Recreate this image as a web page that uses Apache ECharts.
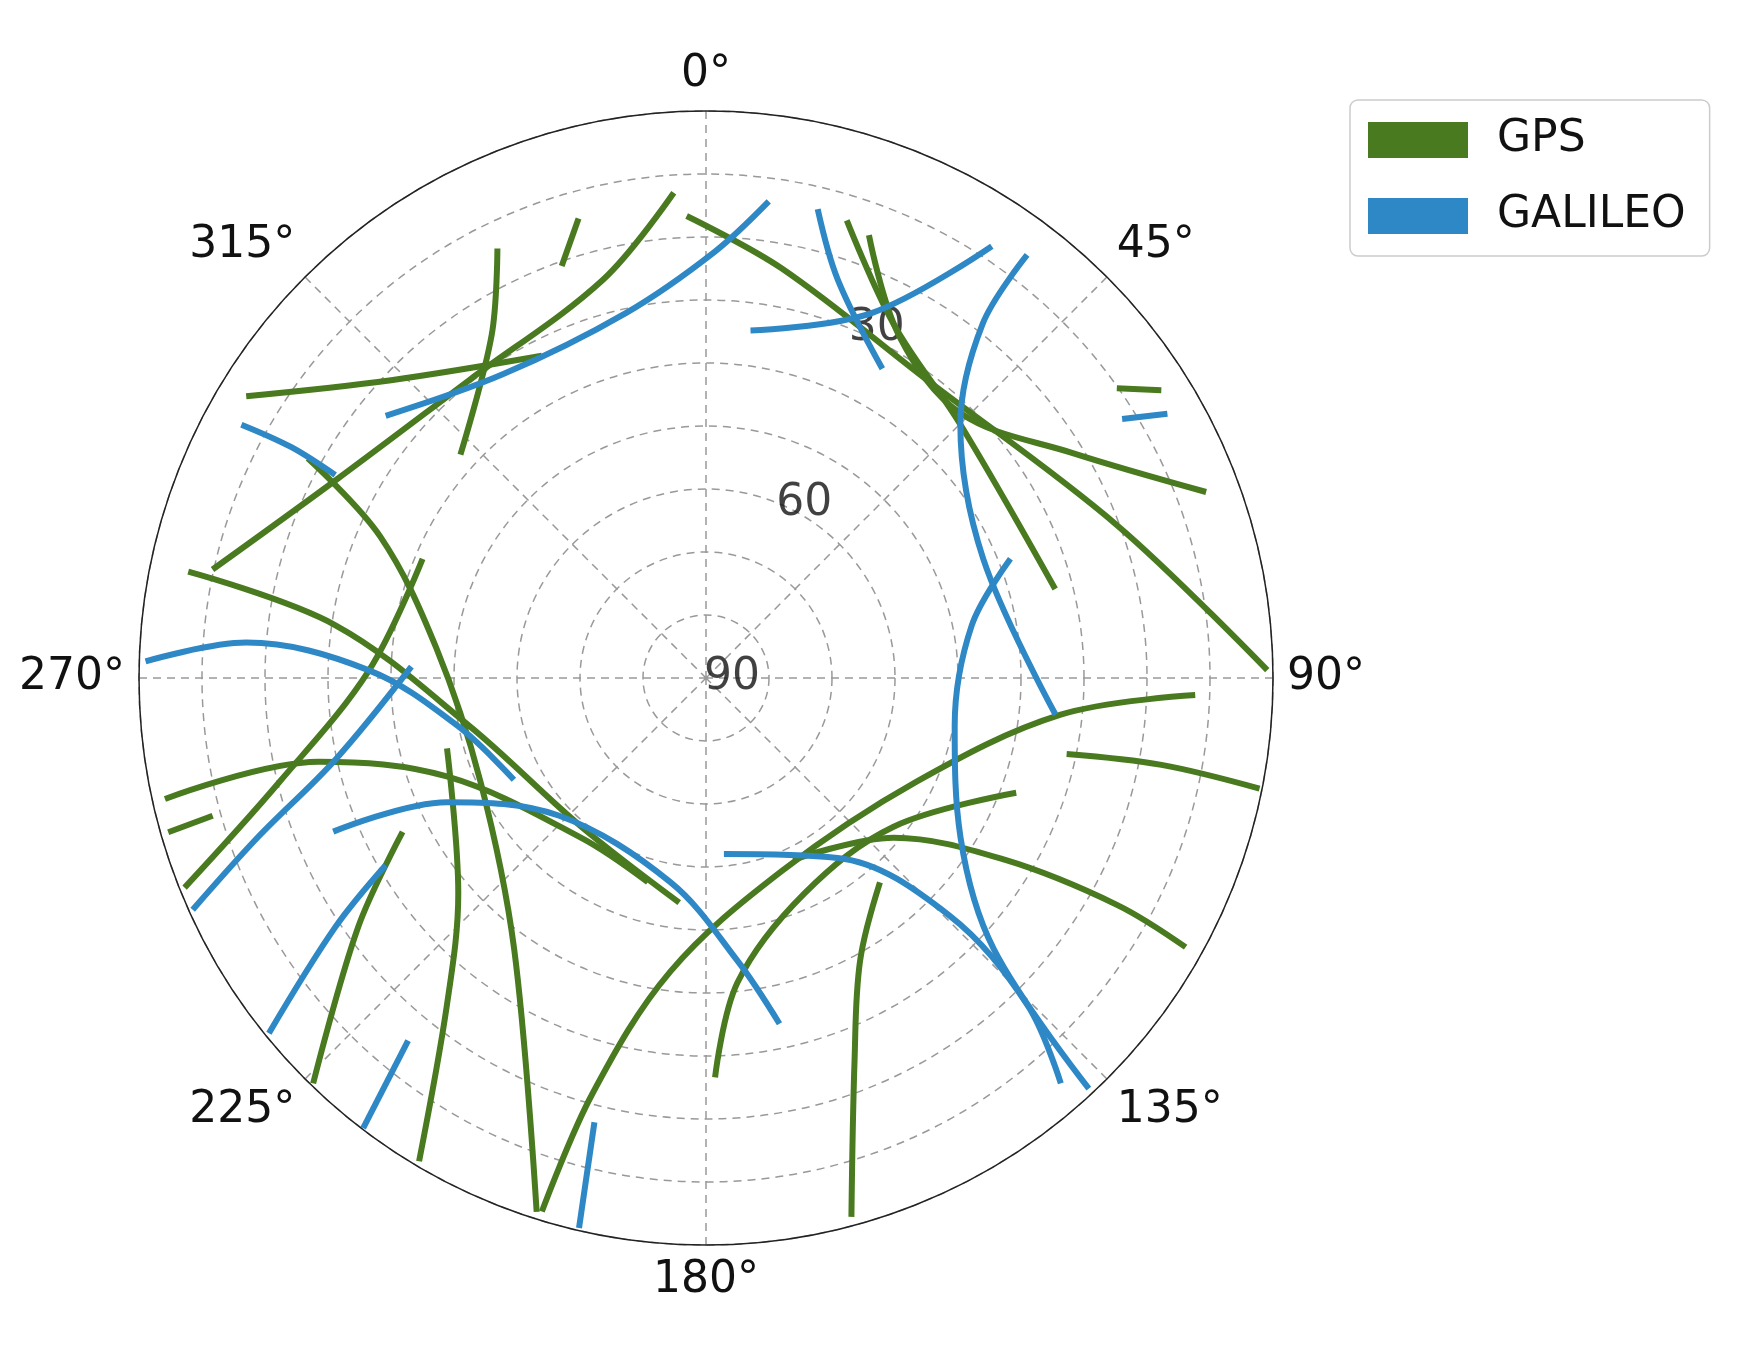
<!DOCTYPE html>
<html><head><meta charset="utf-8">
<script src="https://cdn.jsdelivr.net/npm/echarts@6/dist/echarts.min.js"></script>
<style>html,body{margin:0;background:#fff}#c{width:1743px;height:1346px}</style>
</head><body><div id="c"></div>
<script>
// tracks as [elevation, azimuth] points
const gpsTracks = [
  [[16.6,357.6],[23.9,10.5],[31.1,36.6],[20.4,69.6],[0.9,89.2]],
  [[14.0,17.1],[26.4,27.9],[33.0,45.1],[32.8,75.7]],
  [[15.1,20.2],[27.6,29.4],[31.7,43.9],[21.8,58.4],[5.3,69.6]],
  [[10.2,54.8],[4.5,57.7]],
  [[4.4,301.5],[21.2,313.4],[32.6,333.0]],
  [[14.2,334.1],[25.8,328.0],[37.3,312.3]],
  [[14.3,344.5],[20.7,340.7]],
  [[12.8,356.2],[24.7,345.5],[29.6,321.6],[23.3,298.0],[9.8,282.4]],
  [[17.8,298.9],[33.6,293.5],[46.9,276.4],[50.6,245.3],[37.3,215.3],[1.1,197.6]],
  [[6.1,281.6],[30.6,278.1],[51.7,258.5],[59.2,220.1],[54.1,186.8]],
  [[2.0,257.4],[27.1,257.8],[46.0,249.2],[57.8,218.1],[56.3,195.9]],
  [[1.2,254.0],[8.7,254.4]],
  [[41.2,292.8],[36.5,271.3],[20.3,256.3],[0.8,248.1]],
  [[36.0,243.1],[22.1,234.4],[0.4,224.1]],
  [[47.4,254.8],[37.9,229.0],[23.8,218.4],[0.8,210.7]],
  [[1.4,197.1],[21.5,195.3],[43.1,186.9],[57.1,158.5],[52.8,116.3],[33.4,95.9],[12.3,92.0]],
  [[26.6,178.7],[41.4,174.1],[52.4,155.5],[52.0,128.4],[37.5,110.3]],
  [[58.0,154.4],[50.9,130.4],[34.4,121.3],[15.5,118.9],[2.7,119.3]],
  [[31.5,101.9],[16.4,100.8],[0.4,101.3]],
  [[1.4,164.9],[24.8,158.8],[38.9,151.4],[47.4,139.6]]
];
const galileoTracks = [
  [[24.3,309.3],[32.0,326.2],[30.7,347.6],[22.3,1.2],[13.7,7.5]],
  [[34.4,7.3],[26.4,24.4],[7.8,33.5]],
  [[13.5,13.4],[23.4,18.3],[33.5,29.7]],
  [[5.7,37.2],[18.7,38.0],[33.0,45.1],[42.1,66.7],[34.2,96.0]],
  [[38.1,68.6],[47.0,78.8],[49.8,100.9],[42.3,122.1],[27.2,133.3],[0.9,137.0]],
  [[12.2,58.1],[5.6,60.2]],
  [[6.0,298.6],[14.6,299.1],[22.9,298.7]],
  [[1.0,271.7],[16.8,274.4],[36.5,271.3],[49.9,259.0],[55.5,242.1]],
  [[43.2,272.2],[29.8,257.6],[14.4,250.4],[0.6,245.7]],
  [[26.0,247.6],[44.4,244.4],[58.0,227.0],[57.1,189.9],[44.9,173.7],[33.9,168.0]],
  [[61.9,174.2],[54.6,143.8],[36.0,134.3],[17.2,135.5],[4.5,138.8]],
  [[31.1,239.7],[19.1,236.1],[0.6,230.9]],
  [[15.5,219.4],[0.2,217.3]],
  [[17.3,194.1],[0.4,193.0]]
];
const radiusLabels = [30, 60, 90];
const angleTicks = [0,45,90,135,180,225,270,315];
const GREEN = '#4a7a1f', BLUE = '#2e88c6';

const series = [];
function add(name, tracks, color){
  tracks.forEach(t => series.push({
    name, type:'line', coordinateSystem:'polar', smooth:0.35, symbol:'none',
    data:t, lineStyle:{color, width:6}, itemStyle:{color}
  }));
}
add('GPS', gpsTracks, GREEN);
add('GALILEO', galileoTracks, BLUE);
series.push({
  type:'scatter', coordinateSystem:'polar', symbolSize:0, silent:true,
  data: radiusLabels.map(v => [v, 22.5]),
  label:{show:true, position:'inside', formatter:p=>String(p.value[0]),
         fontSize:44, color:'#111', fontFamily:'DejaVu Sans', offset:[26,0]}
});

const chart = echarts.init(document.getElementById('c'));
chart.setOption({
  animation:false,
  polar:{center:[706,678], radius:567},
  angleAxis:{
    type:'value', min:0, max:360, interval:45, startAngle:90, clockwise:true,
    axisLine:{lineStyle:{color:'#222', width:1.5}},
    axisTick:{show:false},
    axisLabel:{margin:14, fontSize:44, color:'#111', fontFamily:'DejaVu Sans',
      formatter:v => angleTicks.includes(v) ? v+'°' : ''},
    splitLine:{lineStyle:{color:'#999', type:[8,6], width:1.5}}
  },
  radiusAxis:{
    type:'value', min:0, max:90, interval:10, inverse:true,
    axisLine:{show:false}, axisTick:{show:false}, axisLabel:{show:false},
    splitLine:{lineStyle:{color:'#999', type:[8,6], width:1.5}}
  },
  legend:{
    data:['GPS','GALILEO'], orient:'vertical', left:1350, top:100,
    icon:'rect', itemWidth:100, itemHeight:36, itemGap:32,
    textStyle:{fontSize:44, color:'#111', fontFamily:'DejaVu Sans', padding:[0,0,0,24]},
    borderColor:'#ccc', borderWidth:1.5, borderRadius:8, padding:[18,24,18,18]
  },
  series
});
</script></body></html>
